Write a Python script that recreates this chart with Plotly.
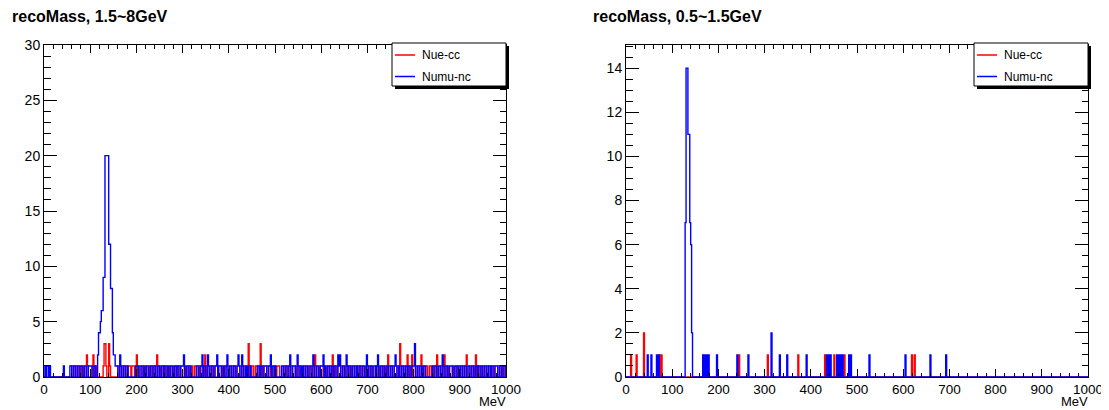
import numpy as np
import plotly.graph_objects as go

# ---------------- data ----------------
bin_width_mev = 2
x_range = [0, 1000]

# recoMass, 1.5~8GeV : 1-count pattern per 2 MeV bin, one string per 100 MeV
nue_cc_1p5_8_rows = [
    "0" * 28 + "0011001100110010001100",
    "0010011000" + "0" * 18 + "0011001100110111011100",
    "0010001100" "1000100110" "0100010001" "0011001000" "1001001100",
    "0010001100" "1001100010" "0110010001" "1001100010" "0010011000",
    "1001100100" "0011001100" "0010011001" "1001001100" "0110010001",
    "0011100001" "1001100110" "0010001100" "0110010001" "1001100010",
    "0011001001" "1001001100" "0110010001" "0010001101" "1001100010",
    "0110010001" "0010001100" "1001100110" "0011011001" "1001001000",
    "0011001100" "1001100110" "0110010001" "1001100100" "0010001101",
    "1001100100" "0110010001" "0011011001" "1001001100" "0110010001",
]
# bins (MeV lower edge) with more than one count
nue_cc_1p5_8_peaks = {92: 2, 106: 2, 128: 1, 130: 3, 132: 3, 134: 1, 140: 3,
                      142: 1, 200: 2, 244: 2, 348: 2, 442: 3, 468: 3, 586: 2,
                      624: 2, 744: 2, 770: 3, 786: 2, 796: 2, 816: 2, 850: 2,
                      866: 2, 914: 2, 934: 2}

numu_nc_1p5_8_rows = [
    "010110100" "00000000000" "010" "00000" "1100110011001100110011",
    "11001100" + "0" * 20 + "1100110011001" "00000000" "1",
    "1100110010" "0110011001" "1001100110" "1100100110" "0110110011",
    "1100110010" "0000011001" "1001100110" "0110011001" "1100100110",
    "0110011001" "1100110010" "1001000000" "0110110011" "1001100110",
    "1000000110" "0110011001" "1100110010" "1001100110" "0110011001",
    "1100100110" "0110110011" "1001100110" "1100110010" "0110011001",
    "1001100110" "1100110010" "0110011001" "1100100110" "0110110011",
    "1100110010" "0110000000" "1001100110" "0110011001" "1100110010",
    "0110011001" "1001100110" "1100100110" "0110110011" "1001100110",
]
numu_nc_1p5_8_peaks = {116: 2, 118: 4, 120: 4, 122: 5, 124: 6, 126: 6, 128: 9,
                       130: 9, 132: 20, 134: 20, 136: 20, 138: 20, 140: 12,
                       142: 12, 144: 8, 146: 8, 148: 4, 150: 2, 152: 2, 154: 1,
                       164: 2, 302: 2, 342: 2, 354: 2, 374: 2, 396: 2, 420: 2,
                       428: 2, 490: 2, 532: 2, 548: 2, 582: 2, 604: 2, 636: 2,
                       640: 2, 654: 2, 698: 2, 722: 2, 760: 2, 802: 3, 862: 2}

# recoMass, 0.5~1.5GeV : non-empty bins (lower edge in MeV) and their counts
nue_cc_05_15_mev = [10, 22, 38, 72, 76, 244, 306, 372, 430, 450, 472, 618, 624]
nue_cc_05_15_cnt = [1, 1, 2, 1, 1, 1, 1, 1, 1, 1, 1, 1, 1]
numu_nc_05_15_mev = [46, 54, 66, 70, 128, 130, 132, 134, 136, 138, 140, 142,
                     166, 170, 174, 178, 196, 240, 264, 314, 332, 348, 390,
                     434, 438, 442, 456, 460, 464, 468, 482, 486, 526, 604,
                     658, 692]
numu_nc_05_15_cnt = [1, 1, 1, 1, 7, 14, 14, 11, 11, 7, 6, 2,
                     1, 1, 1, 1, 1, 1, 1, 2, 1, 1, 1,
                     1, 1, 1, 1, 1, 1, 1, 1, 1, 1, 1,
                     1, 1]

series_names = ["Nue-cc", "Numu-nc"]
series_colors = ["#ff0000", "#0000ff"]
titles = ["recoMass, 1.5~8GeV", "recoMass, 0.5~1.5GeV"]
y_ranges = [[0, 30], [0, 15.05]]
y_dticks = [5, 2]
y_minor = [1, 0.5]
x_tick_vals = list(range(0, 1001, 100))

# ---------------- helpers ----------------
edges = np.arange(x_range[0], x_range[1] + bin_width_mev, bin_width_mev)
nbins = len(edges) - 1


def from_rows(rows, peaks):
    counts = np.array([int(c) for c in "".join(rows)], dtype=float)
    for m, c in peaks.items():
        counts[int(m // bin_width_mev)] = c
    return counts


def dense_from_sparse(mev, cnt):
    counts = np.zeros(nbins)
    for m, c in zip(mev, cnt):
        counts[int(m // bin_width_mev)] += c
    return counts


def step_xy(counts):
    counts = np.asarray(counts, dtype=float)
    xs = np.concatenate([[edges[0]], np.repeat(edges, 2)[1:-1], [edges[-1]]])
    ys = np.concatenate([[0], np.repeat(counts, 2), [0]])
    return xs, ys


# the page body has an 8px margin; work in screenshot pixels
OFF = 8
W, H = 1109 - OFF, 410 - OFF


def px(x):
    return (x - OFF) / W


def py(y):
    return 1 - (y - OFF) / H


# plot frames in screenshot pixels: (left, right, top, bottom)
frames = [(44, 506, 45, 377), (626, 1088, 45, 377)]

panels = [
    [from_rows(nue_cc_1p5_8_rows, nue_cc_1p5_8_peaks),
     from_rows(numu_nc_1p5_8_rows, numu_nc_1p5_8_peaks)],
    [dense_from_sparse(nue_cc_05_15_mev, nue_cc_05_15_cnt),
     dense_from_sparse(numu_nc_05_15_mev, numu_nc_05_15_cnt)],
]

fig = go.Figure()
font_family = "Liberation Sans, Arial, Helvetica, sans-serif"

for i, (pan, fr) in enumerate(zip(panels, frames)):
    xa = "x" if i == 0 else "x2"
    ya = "y" if i == 0 else "y2"
    for counts, name, col in zip(pan, series_names, series_colors):
        xs, ys = step_xy(counts)
        fig.add_trace(go.Scatter(x=xs, y=ys, mode="lines", name=name,
                                 line=dict(color=col, width=1.4),
                                 xaxis=xa, yaxis=ya, showlegend=False,
                                 hoverinfo="skip"))
    l, r, t, b = fr
    axkey = "" if i == 0 else "2"
    fig.update_layout(**{
        "xaxis" + axkey: dict(
            domain=[px(l), px(r)], range=x_range, anchor=ya, automargin=False,
            tickvals=x_tick_vals, ticks="inside", ticklen=8, tickwidth=1,
            tickcolor="#000", showline=True, linecolor="#000", linewidth=1,
            mirror="allticks", showgrid=False, zeroline=False,
            tickfont=dict(family=font_family, size=13.5, color="#000"),
            minor=dict(dtick=20, ticks="inside", ticklen=4, tickcolor="#000",
                       showgrid=False),
        ),
        "yaxis" + axkey: dict(
            domain=[py(b), py(t)], range=y_ranges[i], anchor=xa, automargin=False,
            dtick=y_dticks[i], tick0=0, ticks="inside", ticklen=13, tickwidth=1,
            tickcolor="#000", showline=True, linecolor="#000", linewidth=1,
            mirror="allticks", showgrid=False, zeroline=False,
            tickfont=dict(family=font_family, size=14, color="#000"),
            minor=dict(dtick=y_minor[i], ticks="inside", ticklen=6.5,
                       tickcolor="#000", showgrid=False),
        ),
    })

    # titles
    fig.add_annotation(xref="paper", yref="paper", x=px(10 if i == 0 else 591),
                       y=py(17), text=titles[i], showarrow=False,
                       xanchor="left", yanchor="middle",
                       font=dict(family=font_family, size=16, color="#000",
                                 weight="bold"))
    # x axis label
    fig.add_annotation(xref="paper", yref="paper", x=px(r + 1), y=py(410),
                       text="MeV", showarrow=False, xanchor="right",
                       yanchor="bottom", borderpad=0,
                       font=dict(family=font_family, size=13, color="#000"))

    # legend box with shadow
    lx0, lx1, ly0, ly1 = r - 114, r, 43, 86
    fig.add_shape(type="rect", xref="paper", yref="paper",
                  x0=px(lx0 + 3), x1=px(lx1 + 3), y0=py(ly1 + 3), y1=py(ly0 + 3),
                  fillcolor="#000", line=dict(width=0), layer="above")
    fig.add_shape(type="rect", xref="paper", yref="paper",
                  x0=px(lx0), x1=px(lx1), y0=py(ly1), y1=py(ly0),
                  fillcolor="#fff", line=dict(color="#000", width=1), layer="above")
    for j, (name, col) in enumerate(zip(series_names, series_colors)):
        yy = 55 + j * 21.5
        fig.add_shape(type="line", xref="paper", yref="paper",
                      x0=px(lx0 + 3), x1=px(lx0 + 23), y0=py(yy), y1=py(yy),
                      line=dict(color=col, width=1.5), layer="above")
        fig.add_annotation(xref="paper", yref="paper", x=px(lx0 + 28), y=py(yy),
                           text=name, showarrow=False, xanchor="left",
                           yanchor="middle",
                           font=dict(family=font_family, size=12, color="#000"))

fig.update_layout(width=W, height=H, autosize=False,
                  margin=dict(l=0, r=0, t=0, b=0, autoexpand=False),
                  paper_bgcolor="#fff", plot_bgcolor="#fff",
                  showlegend=False)

fig.write_html("out.html")
